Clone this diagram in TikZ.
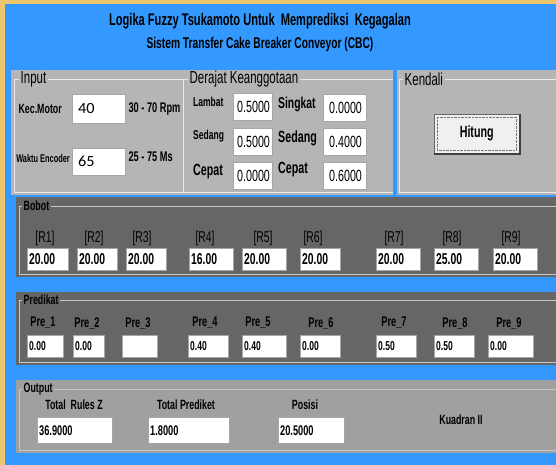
\documentclass[tikz,border=0pt]{standalone}
\usepackage{fontspec}
\setmainfont{Liberation Sans}[FakeStretch=0.66]
\newfontfamily\valfont{Carlito}[FakeStretch=1.05]
\usetikzlibrary{positioning}

\definecolor{winorange}{RGB}{238,198,112}
\definecolor{winblue}{RGB}{51,153,255}
\definecolor{topgray}{RGB}{181,181,181}
\definecolor{bobotgray}{RGB}{102,102,102}
\definecolor{outgray}{RGB}{160,160,160}
\definecolor{btnface}{RGB}{240,240,240}

\newcommand\fs[1]{\fontsize{#1}{#1}\selectfont}

\tikzset{
  etch/.style={draw=white!92!black, line width=0.9pt},
  gline/.style={draw=white!78!black, line width=0.7pt},
  ptitle/.style={anchor=west, inner xsep=1.5pt, inner ysep=0pt, font=\fs{17.4}},
  gtitle/.style={anchor=west, inner xsep=1.5pt, inner ysep=0pt, font=\bfseries\fs{13.4}},
  field/.style 2 args={draw=black!35, fill=white, anchor=north west, inner xsep=2pt,
    inner ysep=0pt, text width=#1pt-4pt, minimum height=#2pt, align=left},
  lbl/.style={font=\bfseries\fs{#1}, inner sep=0pt},
}

\begin{document}
\begin{tikzpicture}[x=1pt, y=-1pt]
\clip (0,0) rectangle (556,465);
% window
\fill[winorange] (0,0) rectangle (556,465);
\fill[winblue] (5,4) rectangle (556,465);
\node[font=\bfseries\fs{16.8}] (head1) at (260,21) {Logika Fuzzy Tsukamoto Untuk\ \ Memprediksi\ \ Kegagalan};
\node[font=\bfseries\fs{15.5}] (head2) at (260,44) {Sistem Transfer Cake Breaker Conveyor (CBC)};

% input, derajat keanggotaan, kendali
\fill[topgray] (11,70) rectangle (556,195);
\fill[winblue] (393,70) rectangle (397,195);
\draw[etch] (14,79) rectangle (183,192);
\draw[etch] (183,79) -- (393,79) (183,192) -- (393,192);
\draw[etch] (399,79) rectangle (560,192);
\node[ptitle, fill=topgray] (tin) at (19,79) {Input};
\node[ptitle, fill=topgray] (tder) at (188,79) {Derajat Keanggotaan};
\node[ptitle, fill=topgray] (tken) at (403,79) {Kendali};

\node[field={53}{29}, font=\valfont\fs{15.5}] (motor) at (72,94) {\hspace*{4pt}40};
\node[field={53}{27}, font=\valfont\fs{15.5}] (encoder) at (72,148) {\hspace*{4pt}65};
\node[lbl=13.4, left=10pt of motor] (kec) {Kec.Motor};
\node[lbl=11.2, left=2pt of encoder, yshift=3pt] (waktu) {Waktu Encoder};
\node[lbl=14, right=3pt of motor] (rpm) {30 - 70 Rpm};
\node[lbl=14, right=3pt of encoder, yshift=5pt] (ms) {25 - 75 Ms};

\node[field={39}{27}, font=\fs{16.2}] (d1) at (233,93) {\hspace*{2pt}0.5000};
\node[field={39}{27}, font=\fs{16.2}] (d2) at (233,128) {\hspace*{2pt}0.5000};
\node[field={39}{27}, font=\fs{16.2}] (d3) at (233,162) {\hspace*{2pt}0.0000};
\node[field={43}{27}, font=\fs{16.2}] (e1) at (323,94) {\hspace*{4pt}0.0000};
\node[field={43}{27}, font=\fs{16.2}] (e2) at (323,128) {\hspace*{4pt}0.4000};
\node[field={43}{27}, font=\fs{16.2}] (e3) at (323,162) {\hspace*{4pt}0.6000};
\node[lbl=12.9, anchor=west] (lambat) at (193,102) {Lambat};
\node[lbl=12.9, anchor=west] (sedang) at (193,136) {Sedang};
\node[lbl=16.2, anchor=west] (cepat) at (193,172) {Cepat};
\node[lbl=15.7, anchor=west] (singkat) at (278,104) {Singkat};
\node[lbl=16.2, anchor=west] (sedang2) at (278,138) {Sedang};
\node[lbl=16.2, anchor=west] (cepat2) at (278,170) {Cepat};

\node[draw=black!60, fill=btnface, minimum width=85pt, minimum height=39pt, anchor=north west,
  font=\bfseries\fs{16.2}] (hitung) at (434,114) {Hitung};
\draw[black!75, line width=2pt] ([xshift=1pt]hitung.north east) -- ([shift={(1pt,-1pt)}]hitung.south east)
  -- ([yshift=-1pt]hitung.south west);
\draw[black!55, densely dotted] ([shift={(3pt,-3pt)}]hitung.north west) rectangle ([shift={(-3pt,3pt)}]hitung.south east);

% bobot
\fill[bobotgray] (16,197) rectangle (556,277);
\draw[gline] (19,206) rectangle (560,274);
\node[gtitle, fill=bobotgray] (tbob) at (22,206) {Bobot};
\foreach \i/\lx/\bx/\bw/\v in {1/45/27/41/20.00, 2/94/77/40/20.00, 3/142/126/40/20.00,
    4/205/189/44/16.00, 5/263/242/44/20.00, 6/313/300/40/20.00,
    7/394/376/44/20.00, 8/452/434/44/25.00, 9/511/493/44/20.00} {
  \node[font=\fs{15.7}, inner sep=0pt] (rl\i) at (\lx,238) {[R\i]};
  \node[field={\bw}{22}, font=\bfseries\fs{15.7}] (r\i) at (\bx,248) {\v};
}

% predikat
\fill[bobotgray] (16,292) rectangle (556,365);
\draw[gline] (19,300) rectangle (560,362);
\node[gtitle, fill=bobotgray] (tpre) at (22,300) {Predikat};
\foreach \i/\lx/\bx/\bw/\v in {1/43/27/36/0.00, 2/87/73/31/0.00, 3/138/122/35/{},
    4/205/188/40/0.40, 5/258/242/44/0.40, 6/321/300/40/0.00,
    7/394/376/40/0.50, 8/455/434/40/0.50, 9/509/488/45/0.00} {
  \node[lbl=14] (pl\i) at (\lx,323) {Pre\_\i};
  \node[field={\bw}{22}, font=\bfseries\fs{12.9}] (p\i) at (\bx,335) {\v};
}

% output
\fill[outgray] (16,380) rectangle (556,453);
\draw[gline] (19,389) rectangle (560,450);
\node[gtitle, fill=outgray] (tout) at (22,389) {Output};
\node[lbl=13.4] (lz) at (74,405) {Total\ \ Rules Z};
\node[lbl=13.4] (lpred) at (186,405) {Total Prediket};
\node[lbl=13.4] (lpos) at (305,405) {Posisi};
\node[field={75}{26}, font=\bfseries\fs{14}] (oz) at (37,417) {36.9000};
\node[field={81}{26}, font=\bfseries\fs{14}] (opred) at (148,417) {1.8000};
\node[field={66}{26}, font=\bfseries\fs{14}] (opos) at (278,417) {20.5000};
\node[lbl=13.4] (kuadran) at (461,420) {Kuadran II};
\end{tikzpicture}
\end{document}
